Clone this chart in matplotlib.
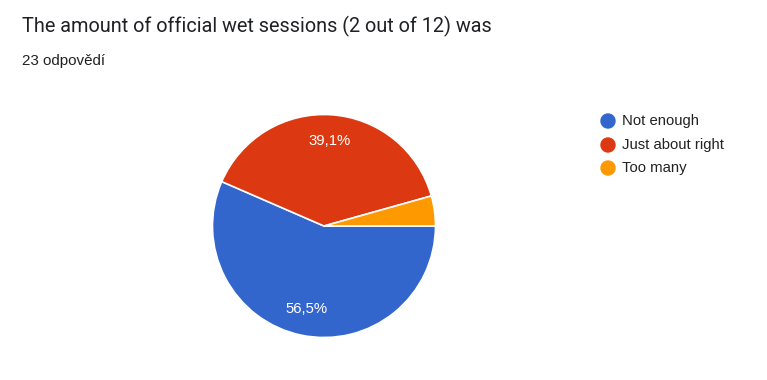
import matplotlib
matplotlib.use("Agg")
import matplotlib.pyplot as plt
from matplotlib.patches import Circle

title = "The amount of official wet sessions (2 out of 12) was"
subtitle = "23 odpovědí"
categories = ["Not enough", "Just about right", "Too many"]
counts = [13, 9, 1]
colors = ["#3366CC", "#DC3912", "#FF9900"]

W, H = 767, 380
fig = plt.figure(figsize=(W / 100, H / 100), dpi=100)
fig.patch.set_facecolor("white")
plt.rcParams["font.family"] = ["Roboto", "DejaVu Sans"]

# title & subtitle
fig.text(22 / W, 1 - 26 / H, title, fontsize=14.3, color="#202124", va="center", ha="left")
fig.text(22 / W, 1 - 61 / H, subtitle, fontsize=10.9, color="#202124", va="center", ha="left",
         family=["Liberation Sans", "DejaVu Sans"])

# pie axes: center (324,226) px from top, radius 111
cx, cy, r = 324, 226, 111.5
ax = fig.add_axes([(cx - r) / W, (H - cy - r) / H, 2 * r / W, 2 * r / H])

def fmt(p):
    return (f"{p:.1f}".replace(".", ",") + "%") if p > 5 else ""

wedges, texts, autotexts = ax.pie(
    counts, colors=colors, startangle=0, counterclock=False, radius=1,
    autopct=fmt, pctdistance=0.76,
    wedgeprops=dict(edgecolor="white", linewidth=1.2),
    textprops=dict(color="white", fontsize=10.7, family=["Liberation Sans", "DejaVu Sans"]),
)
ax.set_xlim(-1, 1)
ax.set_ylim(-1, 1)
ax.set_aspect("equal")
ax.axis("off")

# legend
lax = fig.add_axes([0, 0, 1, 1])
lax.set_xlim(0, W)
lax.set_ylim(H, 0)
lax.axis("off")
rows_y = [121, 145, 168]
for name, col, y in zip(categories, colors, rows_y):
    lax.add_patch(Circle((608, y), 7, color=col))
    lax.text(622, y, name, fontsize=10.7, color="#222222", va="center", ha="left",
             family=["Liberation Sans", "DejaVu Sans"])

fig.savefig("out.png", dpi=100, facecolor="white")
